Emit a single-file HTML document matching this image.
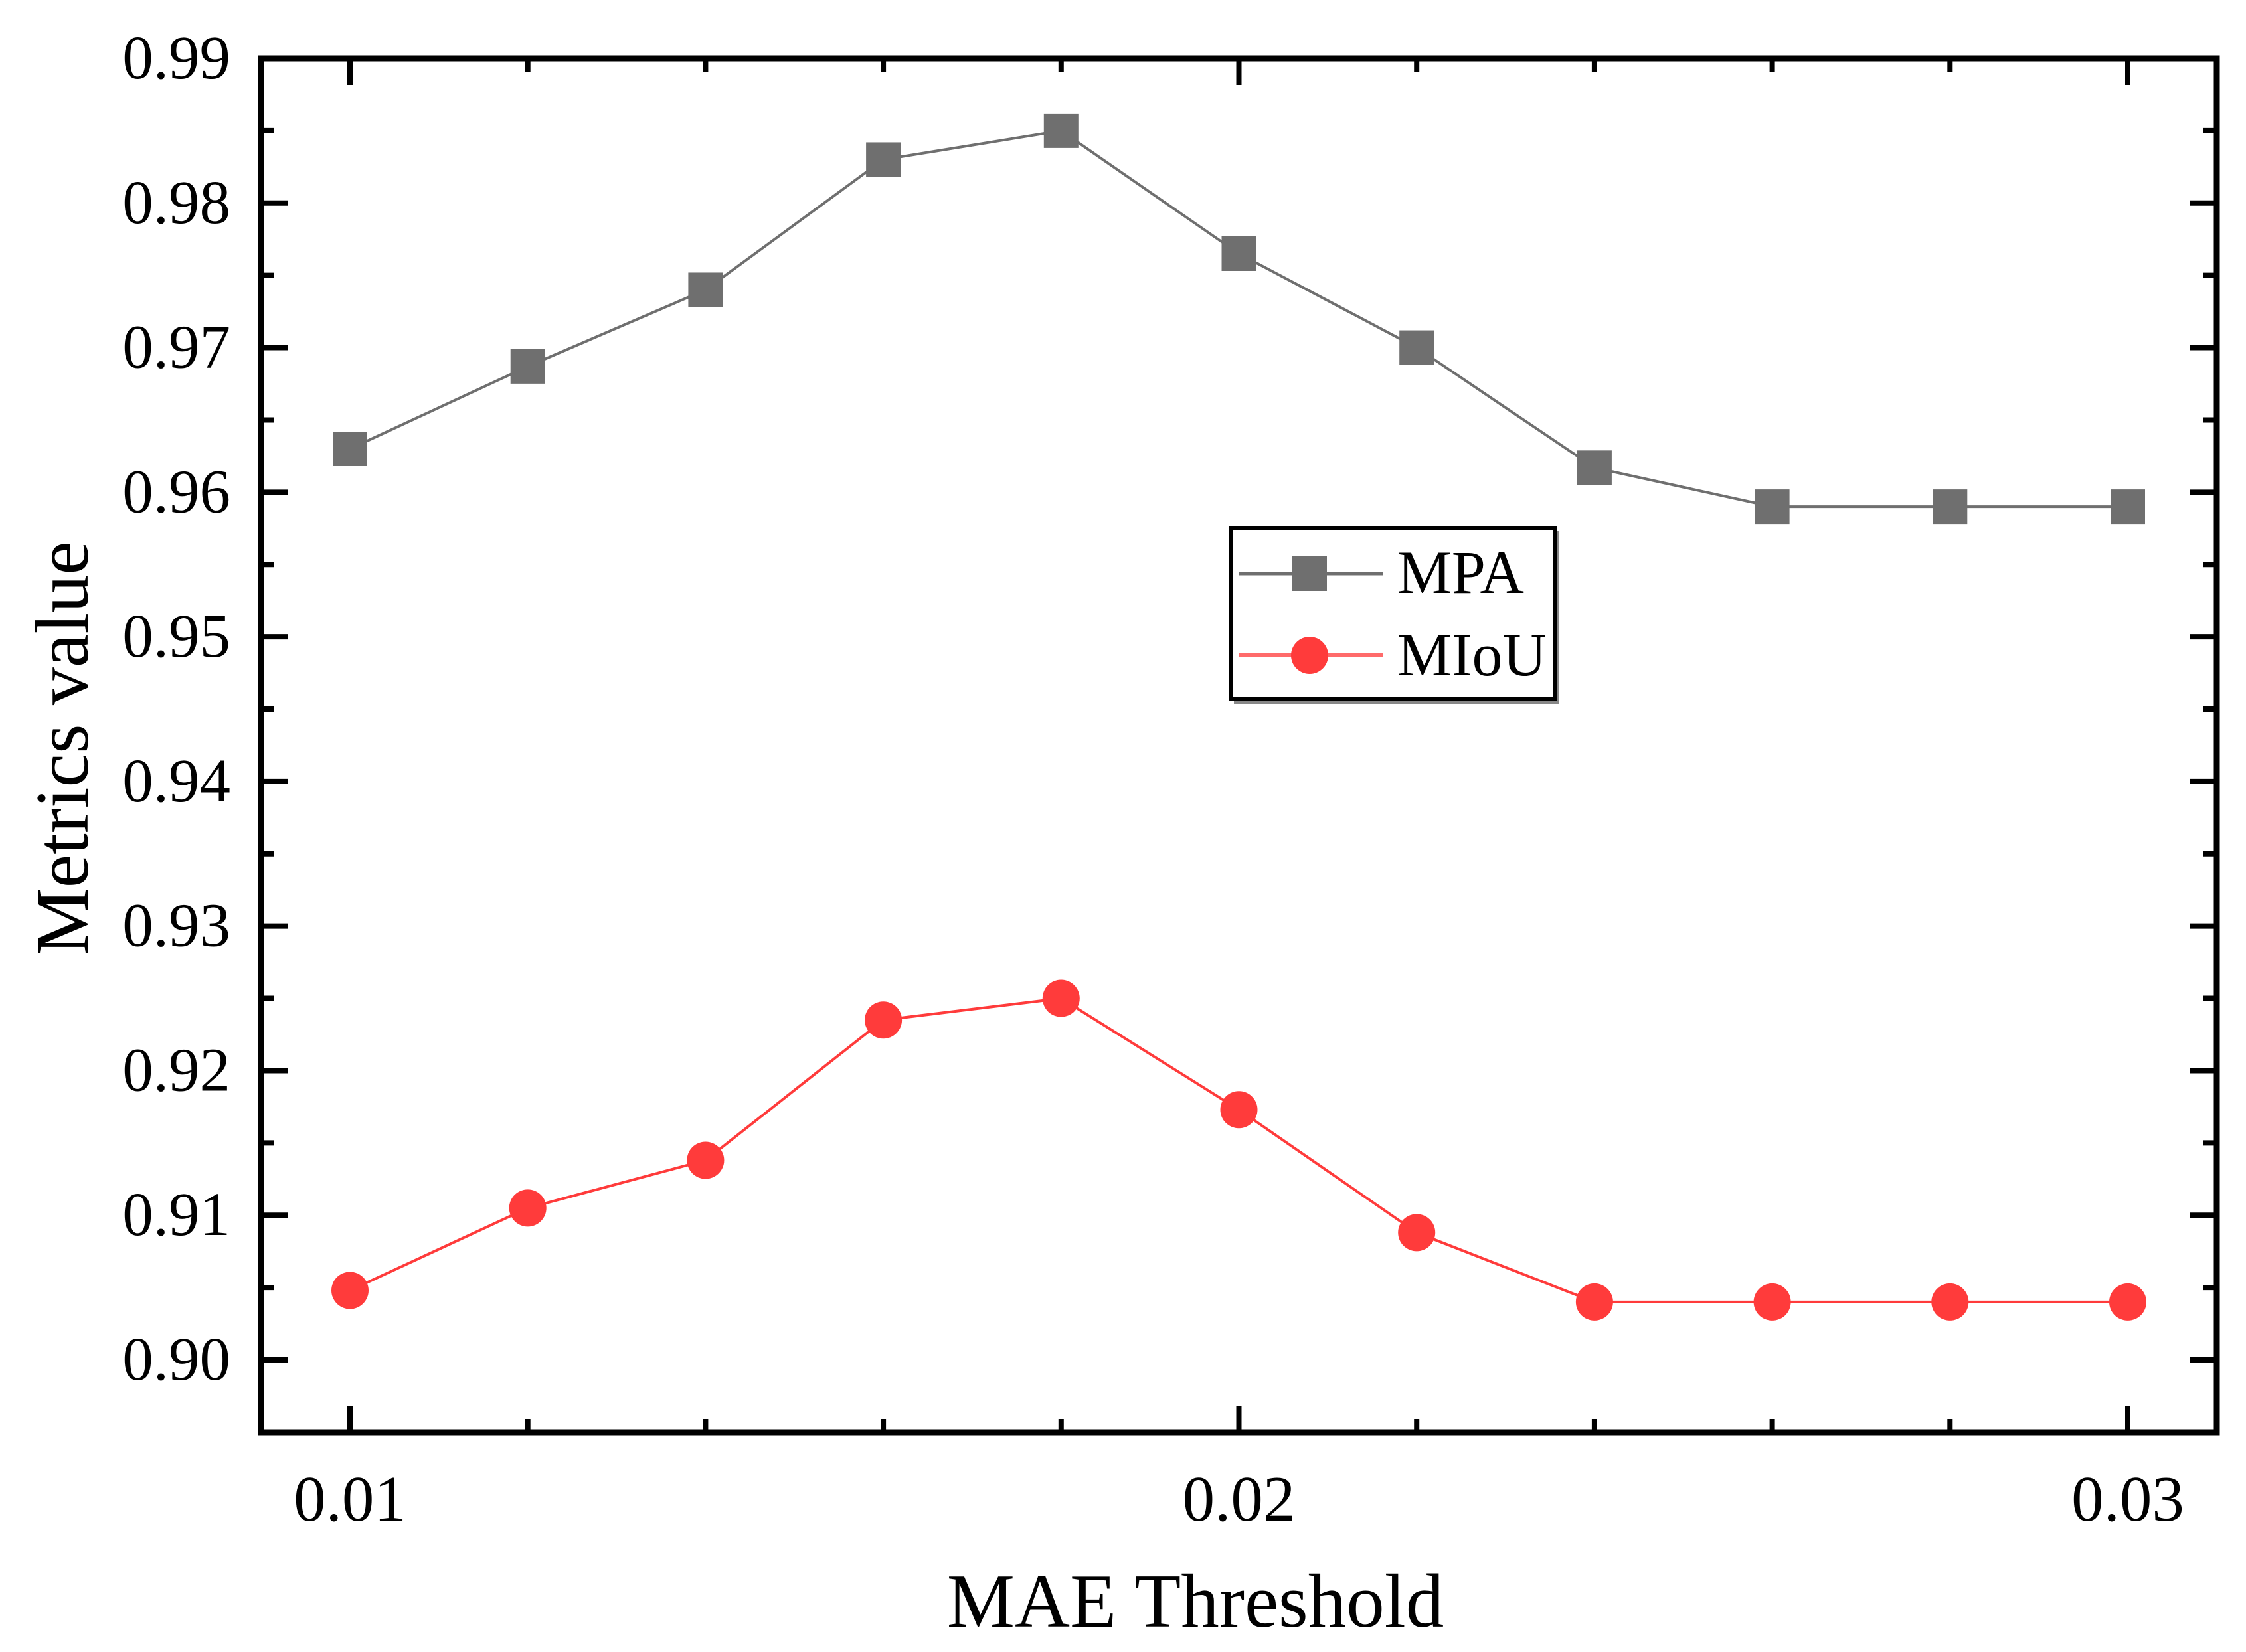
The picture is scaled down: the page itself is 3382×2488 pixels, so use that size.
<!DOCTYPE html>
<html><head><meta charset="utf-8"><style>
html,body{margin:0;padding:0;background:#fff;}
svg{display:block;font-family:"Liberation Serif",serif;}
</style></head><body>
<svg id="chart" width="3382" height="2488" viewBox="0 0 3382 2488"></svg>
<script>
const xValues=[0.010,0.012,0.014,0.016,0.018,0.020,0.022,0.024,0.026,0.028,0.030];
const mpaValues=[0.963,0.9687,0.974,0.983,0.985,0.9765,0.970,0.9617,0.959,0.959,0.959];
const miouValues=[0.9048,0.9105,0.9138,0.9235,0.925,0.9173,0.9088,0.904,0.904,0.904,0.904];
const yTicks=[0.90,0.91,0.92,0.93,0.94,0.95,0.96,0.97,0.98,0.99];
const yTickLabels=["0.90","0.91","0.92","0.93","0.94","0.95","0.96","0.97","0.98","0.99"];
const xTicks=[0.01,0.02,0.03];
const xTickLabels=["0.01","0.02","0.03"];
const xMinor=[0.012,0.014,0.016,0.018,0.022,0.024,0.026,0.028];

const NS="http://www.w3.org/2000/svg";
const svg=document.getElementById('chart');
const L=393,R=3338,T=88,B=2157;
function xs(v){return 527+(v-0.01)/0.02*(3204-527);}
function ys(v){return 2048-(v-0.90)/0.09*(2048-88);}
function mk(tag,attrs,parent){const e=document.createElementNS(NS,tag);for(const k in attrs)e.setAttribute(k,attrs[k]);(parent||svg).appendChild(e);return e;}

const tg=mk('g',{stroke:'#000','stroke-width':8});


yTicks.forEach((v,i)=>{
  const y=ys(v);
  mk('line',{x1:L,y1:y,x2:L+40,y2:y},tg);
  mk('line',{x1:R,y1:y,x2:R-40,y2:y},tg);
  const ym=ys(v+0.005);
  if(ym>T+5){mk('line',{x1:L,y1:ym,x2:L+20,y2:ym},tg);mk('line',{x1:R,y1:ym,x2:R-20,y2:ym},tg);}
  const t=mk('text',{x:347,y:y+30,'text-anchor':'end','font-size':93,fill:'#000',stroke:'none'});
  t.textContent=yTickLabels[i];
  
  
});
const ymb=ys(0.895);
mk('line',{x1:L,y1:ymb,x2:L+20,y2:ymb},tg);mk('line',{x1:R,y1:ymb,x2:R-20,y2:ymb},tg);
xTicks.forEach((v,i)=>{
  const x=xs(v);
  mk('line',{x1:x,y1:B,x2:x,y2:B-40},tg);
  mk('line',{x1:x,y1:T,x2:x,y2:T+40},tg);
  const t=mk('text',{x:x,y:2290,'text-anchor':'middle','font-size':97,fill:'#000',stroke:'none'});
  t.textContent=xTickLabels[i];
  
  
});
xMinor.forEach(v=>{const x=xs(v);mk('line',{x1:x,y1:B,x2:x,y2:B-20},tg);mk('line',{x1:x,y1:T,x2:x,y2:T+20},tg);});

const fr=mk('rect',{x:L,y:T,width:R-L,height:B-T,fill:'none',stroke:'#000','stroke-width':9});



function series(vals,color,shape,name){
  const g=mk('g',{});
  
  
  mk('polyline',{points:vals.map((v,i)=>xs(xValues[i])+','+ys(v)).join(' '),fill:'none',stroke:color,'stroke-width':4},g);
  vals.forEach((v,i)=>{
    let m;
    if(shape==='sq')m=mk('rect',{x:xs(xValues[i])-26,y:ys(v)-26,width:52,height:52,fill:color},g);
    else m=mk('circle',{cx:xs(xValues[i]),cy:ys(v),r:28,fill:color},g);
    
    
  });
}
series(mpaValues,'#6f6f6f','sq','mpa-series');
series(miouValues,'#ff3b3b','ci','miou-series');

const lg=mk('g',{});


mk('rect',{x:1858,y:799,width:490,height:261,fill:'#888',stroke:'none'},lg);
mk('rect',{x:1854,y:795,width:488,height:258,fill:'#fff',stroke:'#000','stroke-width':6},lg);
mk('line',{x1:1866,y1:864,x2:2083,y2:864,stroke:'#6f6f6f','stroke-width':5},lg);
mk('rect',{x:1946,y:838,width:52,height:52,fill:'#6f6f6f'},lg);
mk('line',{x1:1866,y1:987,x2:2083,y2:987,stroke:'#ff6b6b','stroke-width':6},lg);
mk('circle',{cx:1972,cy:987,r:28,fill:'#ff3b3b'},lg);
const t1=mk('text',{x:2104,y:893,'font-size':92,fill:'#000'},lg);t1.textContent='MPA';


const t2=mk('text',{x:2104,y:1017,'font-size':92,fill:'#000'},lg);t2.textContent='MIoU';



const xt=mk('text',{x:1800,y:2450,'text-anchor':'middle','font-size':115,fill:'#000'});
xt.textContent='MAE Threshold';


const yt=mk('text',{x:0,y:0,'text-anchor':'middle','font-size':114,fill:'#000',transform:'translate(132,1127) rotate(-90)'});
yt.textContent='Metrics value';


</script>
</body></html>
